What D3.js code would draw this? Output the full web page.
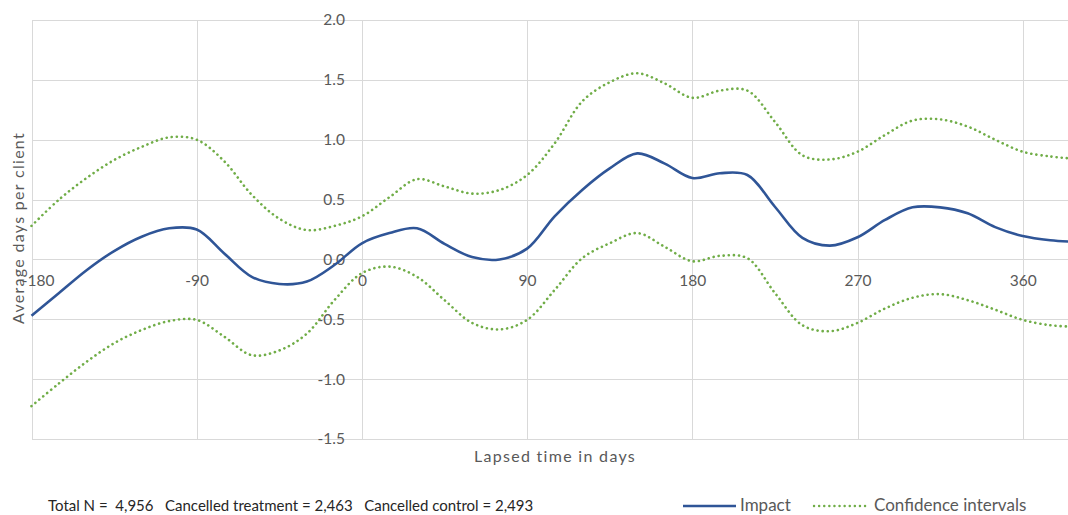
<!DOCTYPE html>
<html>
<head>
<meta charset="utf-8">
<script src="https://cdn.jsdelivr.net/npm/d3@7"></script>
<style>
  body { margin: 0; background: #fff; }
  svg { display: block; font-family: Lato, "Open Sans", sans-serif; }
  .grid line { stroke: #d9d9d9; stroke-width: 1; shape-rendering: crispEdges; }
  .tick-label { fill: #595959; font-size: 15.5px; }
  .title { fill: #595959; font-size: 16px; letter-spacing: 1.3px; }
  .legend-label { fill: #595959; font-size: 17px; }
</style>
</head>
<body>
<div class="chart"></div>
<script>
var width = 1068,
    height = 515;

// lapsed time (days)
var days = [-180, -165, -150, -135, -120, -105, -90, -75, -60, -45, -30, -15, 0, 15, 30, 45, 60, 75, 90, 105,
    120, 135, 150, 165, 180, 195, 210, 225, 240, 255, 270, 285, 300, 315, 330, 345, 360, 375, 385];

var impact = [-0.47, -0.28, -0.09, 0.07, 0.19, 0.26, 0.25, 0.05, -0.145, -0.205, -0.185, -0.047, 0.135, 0.22, 0.26, 0.13, 0.02, 0.0, 0.09, 0.36,
    0.58, 0.76, 0.886, 0.80, 0.68, 0.72, 0.705, 0.44, 0.18, 0.115, 0.185, 0.33, 0.435, 0.435, 0.385, 0.27, 0.195, 0.16, 0.15];

var upperCI = [0.28, 0.50, 0.68, 0.83, 0.94, 1.02, 1.0, 0.82, 0.54, 0.34, 0.245, 0.28, 0.36, 0.52, 0.67, 0.61, 0.55, 0.58, 0.705, 0.97,
    1.32, 1.48, 1.555, 1.47, 1.35, 1.41, 1.41, 1.15, 0.87, 0.835, 0.90, 1.04, 1.16, 1.17, 1.11, 1.0, 0.90, 0.86, 0.845];

var lowerCI = [-1.225, -1.035, -0.855, -0.70, -0.59, -0.515, -0.505, -0.645, -0.80, -0.76, -0.62, -0.34, -0.115, -0.06, -0.145, -0.34, -0.53, -0.585, -0.505, -0.255,
    0.01, 0.135, 0.22, 0.105, -0.015, 0.03, 0.01, -0.28, -0.55, -0.60, -0.53, -0.41, -0.32, -0.29, -0.34, -0.42, -0.505, -0.55, -0.56];

var xTicks = [-180, -90, 0, 90, 180, 270, 360];
var yTicks = [-1.5, -1.0, -0.5, 0.0, 0.5, 1.0, 1.5, 2.0];

var footerText = "Total N =  4,956   Cancelled treatment = 2,463   Cancelled control = 2,493";
var legendNames = ["Impact", "Confidence intervals"];

var x = d3.scaleLinear().domain([-180, 385]).range([31.5, 1068.6]);
var y = d3.scaleLinear().domain([-1.5, 2]).range([439, 20]);

var svg = d3.select(".chart").append("svg")
    .attr("width", width)
    .attr("height", height);

// gridlines
var grid = svg.append("g").attr("class", "grid");
grid.selectAll(".hgrid")
    .data(yTicks)
    .enter().append("line")
    .attr("x1", x(-180)).attr("x2", width)
    .attr("y1", function(d) { return Math.round(y(d)) + 0.5; })
    .attr("y2", function(d) { return Math.round(y(d)) + 0.5; });
grid.selectAll(".vgrid")
    .data(xTicks)
    .enter().append("line")
    .attr("y1", y(2)).attr("y2", y(-1.5))
    .attr("x1", function(d) { return Math.round(x(d)) + 0.5; })
    .attr("x2", function(d) { return Math.round(x(d)) + 0.5; });

// y tick labels sit left of the zero-day axis
var yAxis = d3.axisLeft(y).tickValues(yTicks).tickSize(0).tickPadding(0)
    .tickFormat(function(d) { return d.toFixed(1); });
var yG = svg.append("g").attr("transform", "translate(" + (x(0) - 17) + ",0)").call(yAxis);
yG.select(".domain").remove();
yG.selectAll("text").attr("class", "tick-label").attr("fill", null);
yG.attr("font-size", null).attr("font-family", null);

// x tick labels sit below the zero line
var xAxis = d3.axisBottom(x).tickValues(xTicks).tickSize(0).tickPadding(0)
    .tickFormat(function(d) { return String(d); });
var xG = svg.append("g").attr("transform", "translate(0," + (y(0) + 16) + ")").call(xAxis);
xG.select(".domain").remove();
xG.selectAll("text").attr("class", "tick-label").attr("fill", null)
    .attr("dx", function(d) { return d === -180 ? 6 : 0; });
xG.attr("font-size", null).attr("font-family", null);

var line = d3.line()
    .x(function(d) { return x(d[0]); })
    .y(function(d) { return y(d[1]); })
    .curve(d3.curveCatmullRom.alpha(0.5));

function pairs(vals) {
    return days.map(function(d, i) { return [d, vals[i]]; });
}

[upperCI, lowerCI].forEach(function(s) {
    svg.append("path")
        .datum(pairs(s))
        .attr("fill", "none")
        .attr("stroke", "#70ad47")
        .attr("stroke-width", 2.6)
        .attr("stroke-linecap", "round")
        .attr("stroke-dasharray", "0.1,5")
        .attr("d", line);
});

svg.append("path")
    .datum(pairs(impact))
    .attr("fill", "none")
    .attr("stroke", "#2f5597")
    .attr("stroke-width", 2.6)
    .attr("d", line);

// axis titles
svg.append("text")
    .attr("class", "title")
    .attr("x", 555).attr("y", 462)
    .attr("text-anchor", "middle")
    .text("Lapsed time in days");

svg.append("text")
    .attr("class", "title")
    .attr("transform", "translate(24," + 228 + ") rotate(-90)")
    .attr("text-anchor", "middle")
    .text("Average days per client");

// footer + legend
svg.append("text")
    .attr("x", 48).attr("y", 511)
    .style("font-size", "15px")
    .style("white-space", "pre")
    .attr("fill", "#262626")
    .text(footerText);

var legend = svg.append("g");
legend.append("line")
    .attr("x1", 683).attr("x2", 736).attr("y1", 506).attr("y2", 506)
    .attr("stroke", "#2f5597").attr("stroke-width", 2.6);
legend.append("text")
    .attr("class", "legend-label").attr("x", 740).attr("y", 511)
    .text(legendNames[0]);
legend.append("line")
    .attr("x1", 814).attr("x2", 866).attr("y1", 506).attr("y2", 506)
    .attr("stroke", "#70ad47").attr("stroke-width", 2.4)
    .attr("stroke-linecap", "round").attr("stroke-dasharray", "0.1,5");
legend.append("text")
    .attr("class", "legend-label").attr("x", 874).attr("y", 511)
    .text(legendNames[1]);
</script>
</body>
</html>
